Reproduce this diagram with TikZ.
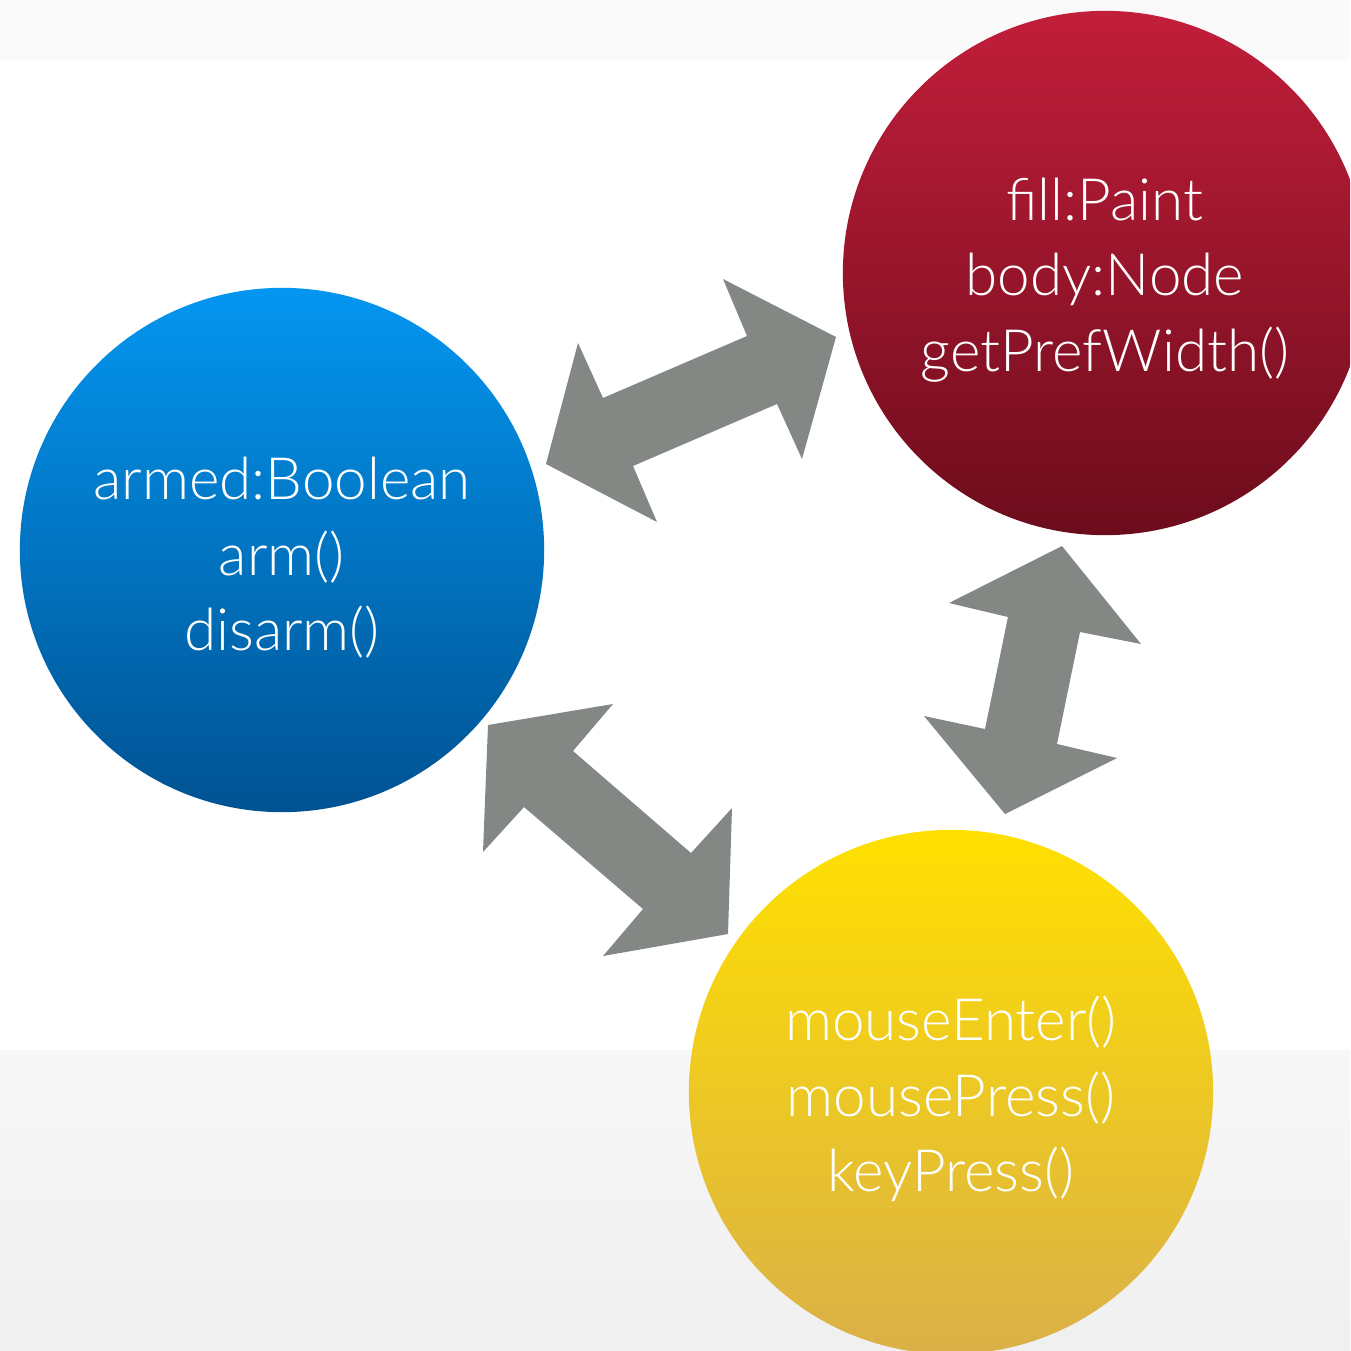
\documentclass[tikz,border=0pt]{standalone}
\usepackage{fontspec}
\setmainfont{Lato}[UprightFont={* Light}]
\usepackage{tikz}
\definecolor{linkgray}{RGB}{131,136,133}
\definecolor{bluetop}{RGB}{4,150,240}
\definecolor{bluebot}{RGB}{0,82,146}
\definecolor{redtop}{RGB}{194,30,58}
\definecolor{redbot}{RGB}{108,12,28}
\definecolor{yeltop}{RGB}{255,224,0}
\definecolor{yelbot}{RGB}{218,176,72}
\tikzstyle{role}=[circle, minimum size=5.24cm, inner sep=0pt]
\tikzstyle{armed}=[role, top color=bluetop, bottom color=bluebot]
\tikzstyle{paint}=[role, top color=redtop, bottom color=redbot]
\tikzstyle{press}=[role, top color=yeltop, bottom color=yelbot]
\tikzstyle{caption}=[text=white, align=center, inner sep=0pt, font=\fontsize{16.6}{21.5}\selectfont]
\tikzstyle{link}=[fill=linkgray, draw=none]

\begin{document}
\begin{tikzpicture}[x=0.01cm, y=-0.01cm]
                    \useasboundingbox (0,0) rectangle (1350,1351);
                    \clip (0,0) rectangle (1350,1351);
                    \fill[black!2] (0,0) rectangle (1350,60);
                    \fill[white] (0,60) rectangle (1350,1050);
                    \shade[top color=black!3, bottom color=black!6] (0,1050) rectangle (1350,1351);
                    \node[armed] (button) at (282, 550) {};
                    \node[paint] (skin)   at (1105, 273) {};
                    \node[press] (events) at (951, 1092) {};
                    \node[caption] (buttontext) at (282, 558) {armed:Boolean\\arm()\\disarm()};
                    \node[caption] (skintext)   at (1105, 280) {fill:Paint\\body:Node\\getPrefWidth()};
                    \node[caption] (eventstext) at (951, 1099) {mouseEnter()\\mousePress()\\keyPress()};
                    \fill[link] (546,464) -- (578,343) -- (603,398) -- (747,336) -- (723,279)
                                -- (836,337) -- (802,459) -- (777,404) -- (633,466) -- (657,522) -- cycle;
                    \fill[link] (1062,546) -- (1141,644) -- (1080,632) -- (1057,744) -- (1117,758)
                                -- (1005,814) -- (924,716) -- (985,729) -- (1008,617) -- (949,603) -- cycle;
                    \fill[link] (488,725) -- (613,704) -- (573,751) -- (691,853) -- (732,808)
                                -- (728,934) -- (603,956) -- (643,909) -- (524,807) -- (483,852) -- cycle;
                \end{tikzpicture}
\end{document}
